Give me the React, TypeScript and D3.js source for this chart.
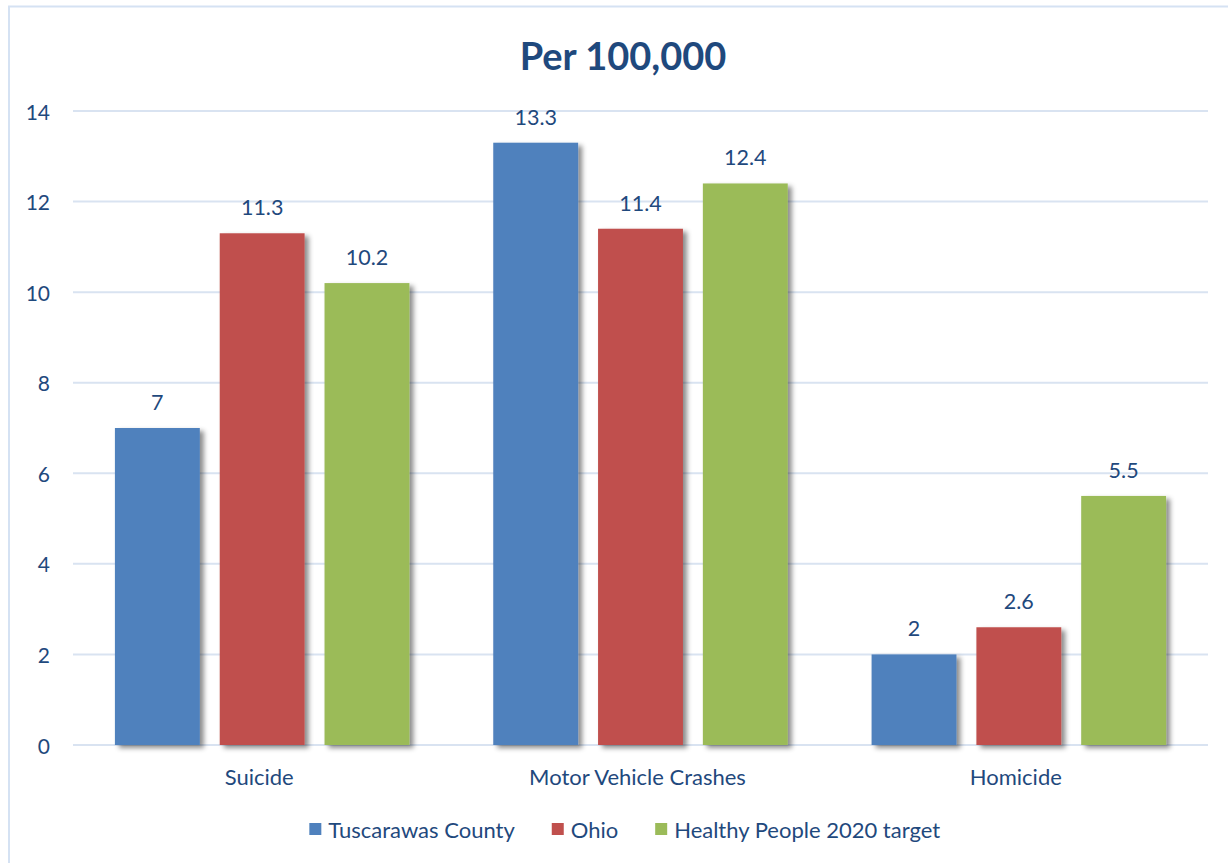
import React, { useMemo } from "react";
import * as d3 from "d3";

const categories = ["Suicide", "Motor Vehicle Crashes", "Homicide"];
const seriesNames = ["Tuscarawas County", "Ohio", "Healthy People 2020 target"];
const seriesColors = ["#4F81BD", "#C0504D", "#9BBB59"];
const tuscarawas = [7, 13.3, 2];
const ohio = [11.3, 11.4, 2.6];
const healthyPeople = [10.2, 12.4, 5.5];
const seriesValues = [tuscarawas, ohio, healthyPeople];
const yTicks = [0, 2, 4, 6, 8, 10, 12, 14];
const title = "Per 100,000";

const W = 1228;
const H = 863;
const FONT = "Lato, 'Open Sans', sans-serif";
const TEXT = "#1F497D";
const GRID = "#D9E3F1";

function measure(text: string, size: number, weight = "normal") {
  if (typeof document === "undefined") return text.length * size * 0.5;
  const c = document.createElement("canvas");
  const ctx = c.getContext("2d");
  if (!ctx) return text.length * size * 0.5;
  ctx.font = `${weight} ${size}px Lato`;
  return ctx.measureText(text).width;
}

export default function App() {
  const margin = { left: 73, right: 20, top: 111, bottom: 118 };
  const x0 = d3.scaleBand<string>().domain(categories).range([margin.left, W - margin.right]).padding(0);
  const x1 = d3
    .scaleBand<string>()
    .domain(seriesNames)
    .range([0, x0.bandwidth()])
    .paddingInner(0.19)
    .paddingOuter(0.4);
  const y = d3.scaleLinear().domain([0, 14]).range([H - margin.bottom, margin.top]);

  const legendSize = 22;
  const legendCenter = 625;
  const legendItems = useMemo(() => {
    const sq = 12;
    const gapText = 7;
    const gapItem = 37;
    const widths = seriesNames.map((s) => measure(s, legendSize));
    const total = widths.reduce((a, w) => a + sq + gapText + w, 0) + gapItem * (seriesNames.length - 1);
    let cx = legendCenter - total / 2;
    return seriesNames.map((s, i) => {
      const item = { name: s, color: seriesColors[i], x: cx, tx: cx + sq + gapText };
      cx += sq + gapText + widths[i] + gapItem;
      return item;
    });
  }, []);

  return (
    <svg
      width={W}
      height={H}
      style={{ position: "absolute", left: 0, top: 0, display: "block", background: "#fff" }}
      fontFamily={FONT}
    >
      <defs>
        <filter id="shadow" x="-20%" y="-20%" width="150%" height="150%">
          <feDropShadow dx="4" dy="3" stdDeviation="2.5" floodColor="#000" floodOpacity="0.45" />
        </filter>
      </defs>
      <rect x={0} y={0} width={W} height={H} fill="#fff" />
      <rect x={9} y={6.5} width={W + 20} height={H + 20} fill="none" stroke="#D5E2F3" strokeWidth={2} />

      <text x={623} y={55} textAnchor="middle" dominantBaseline="central" fontSize={38} fontWeight="bold" fill={TEXT}>
        {title}
      </text>

      {yTicks.map((t) => (
        <g key={t}>
          <line x1={margin.left} x2={W - margin.right} y1={y(t)} y2={y(t)} stroke={GRID} strokeWidth={2} />
          <text x={50} y={y(t)} textAnchor="end" dominantBaseline="central" fontSize={21} fill={TEXT}>
            {t}
          </text>
        </g>
      ))}

      {categories.map((c, ci) => (
        <g key={c} transform={`translate(${x0(c)},0)`}>
          {seriesNames.map((s, si) => {
            const v = seriesValues[si][ci];
            const bx = x1(s) as number;
            return (
              <g key={s}>
                <rect
                  x={bx}
                  y={y(v)}
                  width={x1.bandwidth()}
                  height={y(0) - y(v)}
                  fill={seriesColors[si]}
                  filter="url(#shadow)"
                />
                <text x={bx + x1.bandwidth() / 2} y={y(v) - 18} textAnchor="middle" fontSize={21.5} fill={TEXT}>
                  {String(v)}
                </text>
              </g>
            );
          })}
          <text
            x={x0.bandwidth() / 2 - 3}
            y={y(0) + 31}
            textAnchor="middle"
            dominantBaseline="central"
            fontSize={22}
            fill={TEXT}
          >
            {c}
          </text>
        </g>
      ))}

      {legendItems.map((it) => (
        <g key={it.name}>
          <rect x={it.x} y={823} width={12} height={12} fill={it.color} />
          <text x={it.tx} y={829} dominantBaseline="central" fontSize={legendSize} fill={TEXT}>
            {it.name}
          </text>
        </g>
      ))}
    </svg>
  );
}
